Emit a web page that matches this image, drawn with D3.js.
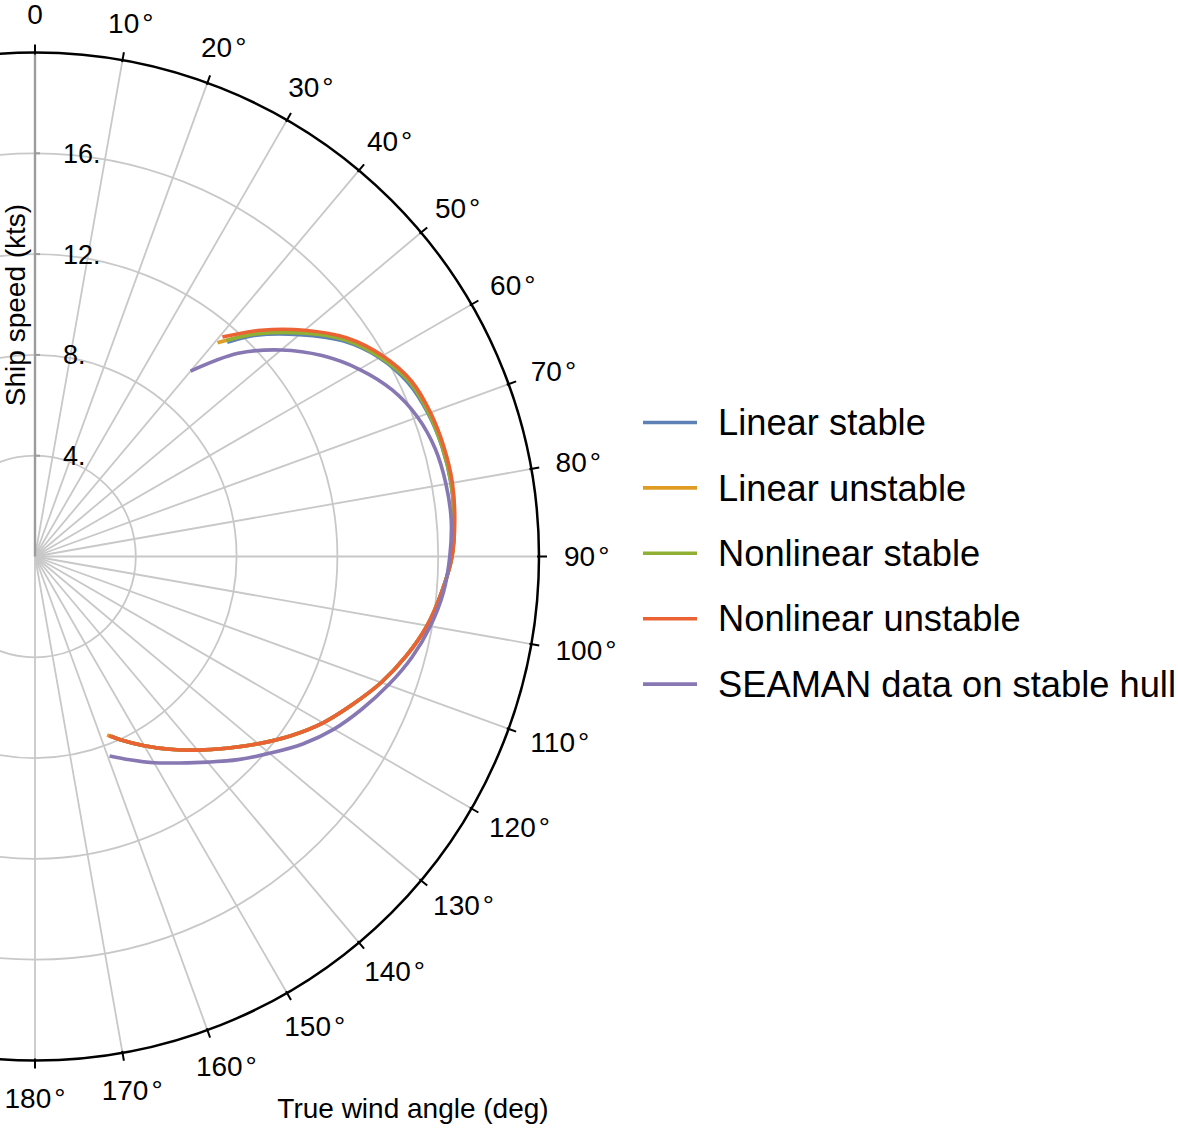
<!DOCTYPE html>
<html>
<head>
<meta charset="utf-8">
<script src="https://cdn.jsdelivr.net/npm/d3@7"></script>
<style>
  body { margin: 0; background: #fff; }
  svg { display: block; }
  text { font-family: "Liberation Sans", Arial, sans-serif; fill: #000; }
</style>
</head>
<body>
<svg id="chart" width="1178" height="1128"></svg>
<script>
// Polar speed diagram: ship speed (kts) against true wind angle (deg)

const angleTicks = [0, 10, 20, 30, 40, 50, 60, 70, 80, 90, 100, 110, 120, 130, 140, 150, 160, 170, 180];
const speedTicks = [4, 8, 12, 16];
const speedMax = 20;

const seriesNames = ["Linear stable", "Linear unstable", "Nonlinear stable", "Nonlinear unstable", "SEAMAN data on stable hull"];
const seriesColors = ["#5e81b5", "#e19c24", "#8fb032", "#eb6235", "#8778b3"];

// [true wind angle (deg), ship speed (kts)]
const linearStable = [
  [41.9, 11.42], [45, 12.42], [50, 13.7], [55, 14.92], [60, 15.78], [65, 16.33], [70, 16.6], [75, 16.73],
  [80, 16.76], [85, 16.69], [90, 16.54], [95, 16.2], [100, 15.8], [105, 15.25], [110, 14.62], [115, 13.9],
  [120, 13.2], [125, 12.4], [130, 11.56], [135, 10.76], [140, 10.03], [145, 9.34], [150, 8.67], [155, 8.02], [157, 7.75]
];
const linearUnstable = [
  [40.5, 11.15], [42, 11.6], [45, 12.56], [50, 13.86], [55, 15.04], [60, 15.85], [65, 16.43], [70, 16.65], [75, 16.75],
  [80, 16.78], [85, 16.7], [90, 16.55], [95, 16.2], [100, 15.8], [105, 15.25], [110, 14.62], [115, 13.9],
  [120, 13.2], [125, 12.4], [130, 11.56], [135, 10.76], [140, 10.03], [145, 9.34], [150, 8.67], [155, 8.02], [158, 7.64]
];
const nonlinearStable = [
  [41.5, 11.45], [45, 12.5], [50, 13.8], [55, 15.0], [60, 15.82], [65, 16.4], [70, 16.63], [75, 16.74],
  [80, 16.77], [85, 16.7], [90, 16.55], [95, 16.2], [100, 15.8], [105, 15.25], [110, 14.62], [115, 13.9],
  [120, 13.2], [125, 12.4], [130, 11.56], [135, 10.76], [140, 10.03], [145, 9.34], [150, 8.67], [155, 8.02], [157, 7.75]
];
const nonlinearUnstable = [
  [40.5, 11.45], [45, 12.7], [50, 13.97], [55, 15.12], [60, 15.93], [65, 16.48], [70, 16.7], [75, 16.8],
  [80, 16.82], [85, 16.72], [90, 16.55], [95, 16.2], [100, 15.8], [105, 15.25], [110, 14.62], [115, 13.9],
  [120, 13.2], [125, 12.4], [130, 11.56], [135, 10.76], [140, 10.03], [145, 9.34], [150, 8.67], [155, 8.02], [157.5, 7.7]
];
const seamanStableHull = [
  [40, 9.6], [45, 11.4], [50, 12.75], [55, 13.9], [60, 14.86], [65, 15.64], [70, 16.16], [75, 16.45],
  [80, 16.56], [85, 16.58], [90, 16.46], [95, 16.27], [100, 15.93], [105, 15.48], [110, 14.92], [115, 14.32],
  [120, 13.7], [125, 12.97], [130, 12.15], [135, 11.4], [140, 10.65], [145, 10.0], [150, 9.45], [155, 8.9], [159.5, 8.45]
];

const seriesData = [linearStable, linearUnstable, nonlinearStable, nonlinearUnstable, seamanStableHull];

const svg = d3.select("#chart");
const cx = 35, cy = 556.5, R = 504;

const rScale = d3.scaleLinear().domain([0, speedMax]).range([0, R]);
const aScale = d3.scaleLinear().domain([0, 180]).range([0, Math.PI]);

const g = svg.append("g").attr("transform", `translate(${cx},${cy})`);

// speed circles
g.selectAll("circle.grid")
  .data(speedTicks)
  .join("circle")
  .attr("class", "grid")
  .attr("r", d => rScale(d))
  .attr("fill", "none")
  .attr("stroke", "#c8c8c8")
  .attr("stroke-width", 1.8);

// angle spokes
g.selectAll("line.spoke")
  .data(angleTicks.filter(d => d > 0))
  .join("line")
  .attr("class", "spoke")
  .attr("x1", 0).attr("y1", 0)
  .attr("x2", d => d3.pointRadial(aScale(d), R)[0])
  .attr("y2", d => d3.pointRadial(aScale(d), R)[1])
  .attr("stroke", "#c8c8c8")
  .attr("stroke-width", 1.8);

// radial speed axis along 0 deg
g.append("line")
  .attr("x1", 0).attr("y1", 0)
  .attr("x2", 0).attr("y2", -R)
  .attr("stroke", "#9c9c9c")
  .attr("stroke-width", 2.4);

g.selectAll("line.rtick")
  .data(speedTicks)
  .join("line")
  .attr("class", "rtick")
  .attr("x1", 0).attr("x2", 5)
  .attr("y1", d => -rScale(d)).attr("y2", d => -rScale(d))
  .attr("stroke", "#9c9c9c")
  .attr("stroke-width", 2);

g.selectAll("text.rlabel")
  .data(speedTicks)
  .join("text")
  .attr("class", "rlabel")
  .attr("x", 28)
  .attr("y", d => -rScale(d))
  .attr("dy", "0.35em")
  .attr("font-size", 27)
  .text(d => d + ".");

// outer frame circle
g.append("circle")
  .attr("r", R)
  .attr("fill", "none")
  .attr("stroke", "#000")
  .attr("stroke-width", 2.5);

// angle ticks on the frame
g.selectAll("line.atick")
  .data(angleTicks)
  .join("line")
  .attr("class", "atick")
  .attr("x1", d => d3.pointRadial(aScale(d), R - 2)[0])
  .attr("y1", d => d3.pointRadial(aScale(d), R - 2)[1])
  .attr("x2", d => d3.pointRadial(aScale(d), R + 8)[0])
  .attr("y2", d => d3.pointRadial(aScale(d), R + 8)[1])
  .attr("stroke", "#000")
  .attr("stroke-width", 2);

// angle labels: the label box sits just outside the frame along its ray
const alabels = g.selectAll("text.alabel")
  .data(angleTicks)
  .join("text")
  .attr("class", "alabel")
  .attr("dy", "0.35em")
  .attr("text-anchor", "middle")
  .attr("font-size", 28);
alabels.append("tspan").text(d => d);
alabels.filter(d => d > 0).append("tspan").attr("dx", 3).text("\u00b0");
alabels.each(function (d) {
  const t = aScale(d);
  const halfW = this.getBBox().width / 2;
  const halfH = 13;
  const p = d3.pointRadial(t, R + 25);
  d3.select(this)
    .attr("x", p[0] + halfW * Math.sin(t))
    .attr("y", p[1] - halfH * Math.cos(t));
});

// speed curves
const radial = d3.lineRadial()
  .angle(d => aScale(d[0]))
  .radius(d => rScale(d[1]))
  .curve(d3.curveCatmullRom.alpha(0.5));

g.selectAll("path.series")
  .data(seriesData)
  .join("path")
  .attr("class", "series")
  .attr("d", radial)
  .attr("fill", "none")
  .attr("stroke", (d, i) => seriesColors[i])
  .attr("stroke-width", 3.6);

// axis titles
svg.append("text")
  .attr("transform", "translate(25,305) rotate(-90)")
  .attr("text-anchor", "middle")
  .attr("font-size", 28)
  .text("Ship speed (kts)");

svg.append("text")
  .attr("x", 413)
  .attr("y", 1118)
  .attr("text-anchor", "middle")
  .attr("font-size", 28)
  .text("True wind angle (deg)");

// legend
const legend = svg.append("g").attr("transform", "translate(643,422.5)");
const rows = legend.selectAll("g.row")
  .data(seriesNames)
  .join("g")
  .attr("class", "row")
  .attr("transform", (d, i) => `translate(0,${i * 65.4})`);
rows.append("line")
  .attr("x1", 0).attr("x2", 54)
  .attr("y1", 0).attr("y2", 0)
  .attr("stroke", (d, i) => seriesColors[i])
  .attr("stroke-width", 3.6);
rows.append("text")
  .attr("x", 75)
  .attr("y", 0)
  .attr("dy", "0.35em")
  .attr("font-size", 36.3)
  .text(d => d);
</script>
</body>
</html>
